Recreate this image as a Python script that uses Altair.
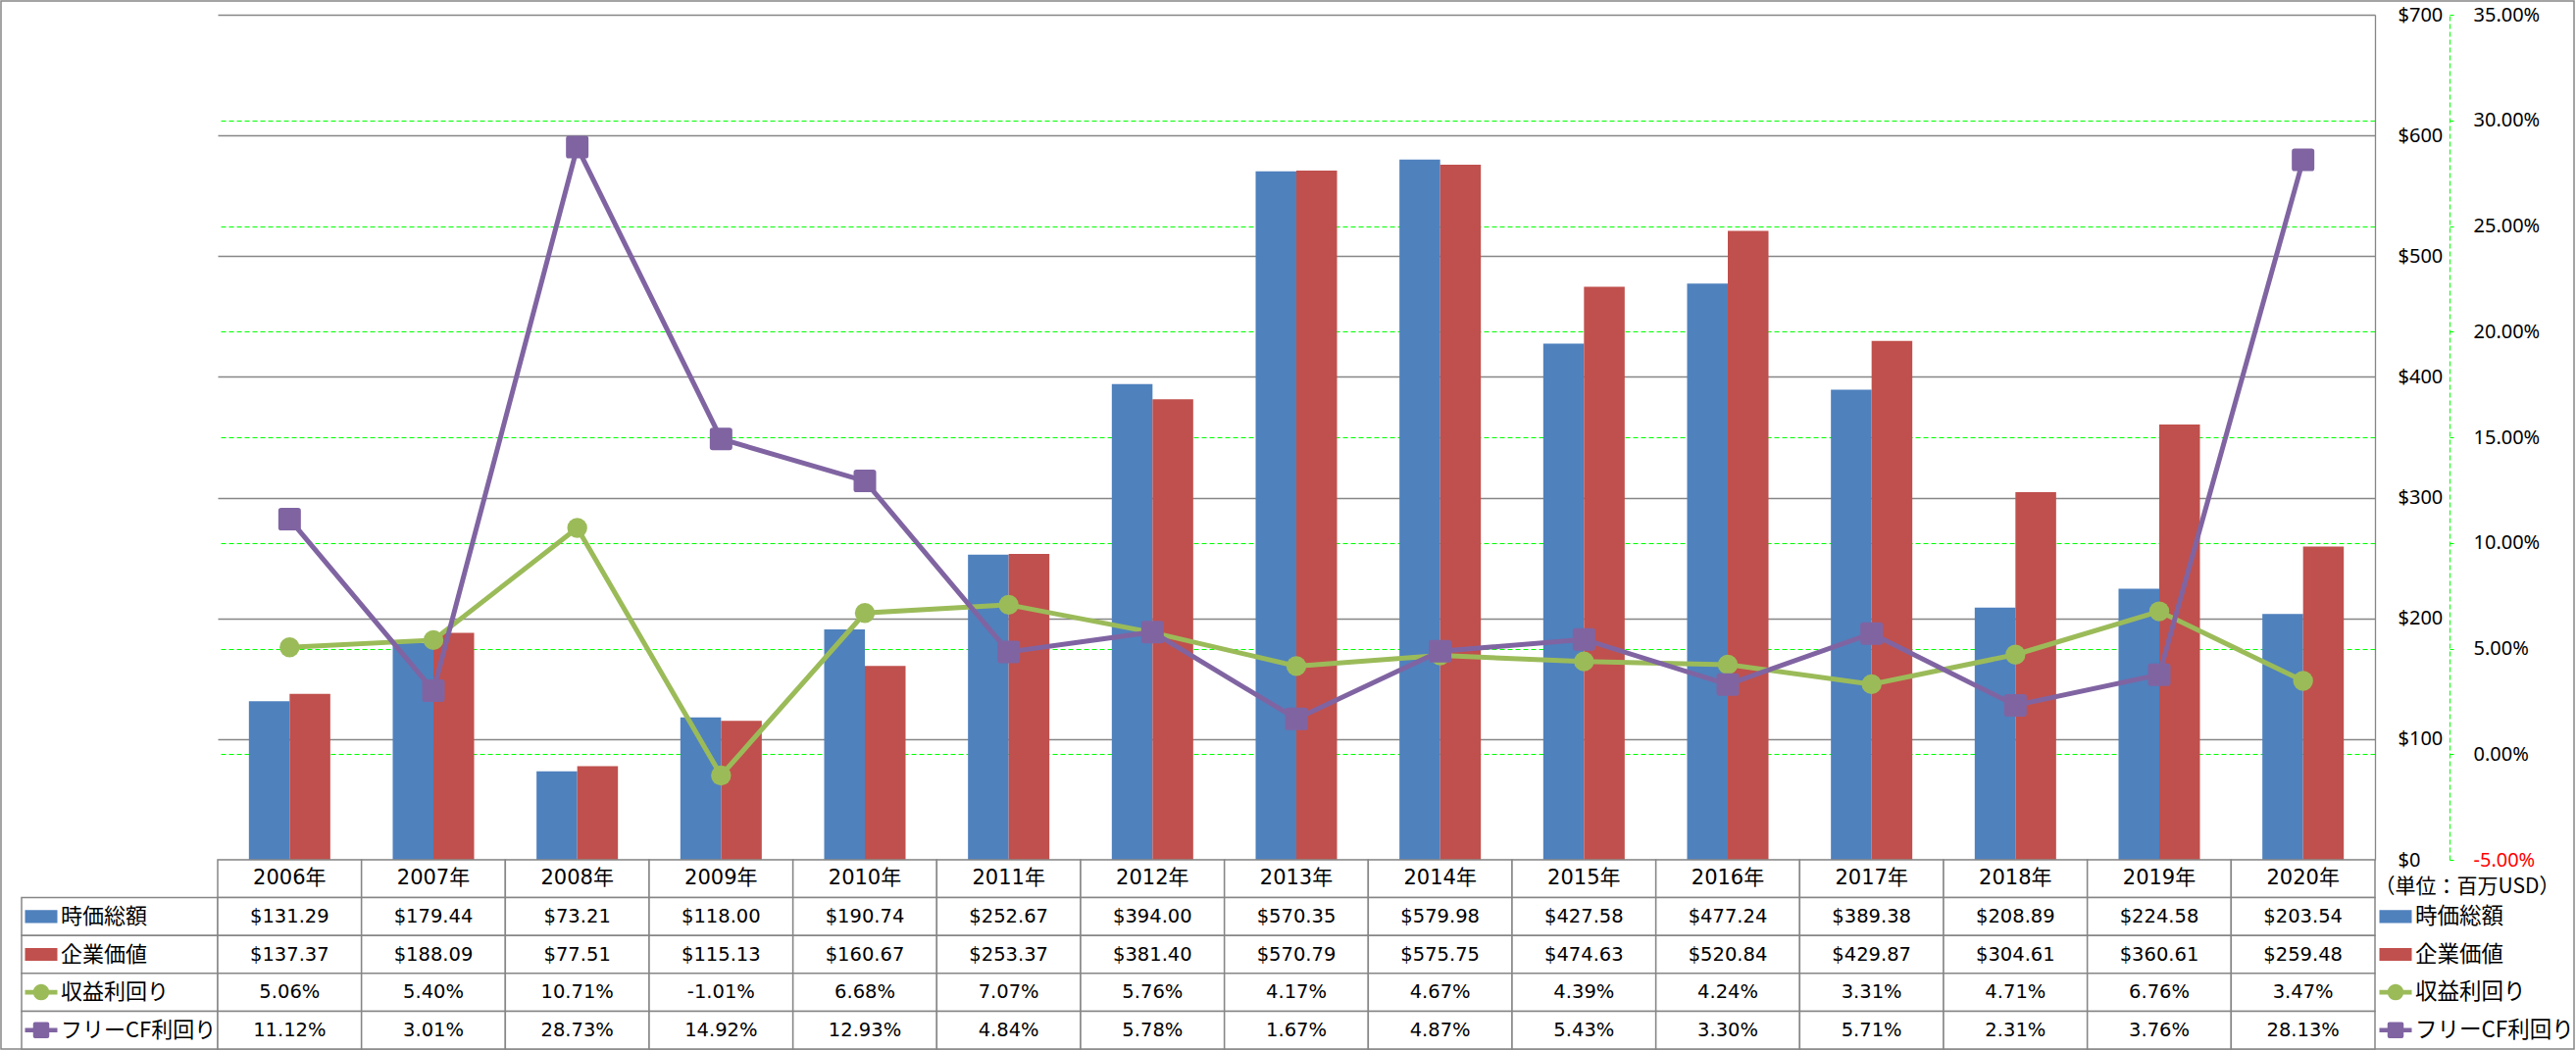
import altair as alt
import pandas as pd

# ---------------- data ----------------
years = ["2006年", "2007年", "2008年", "2009年", "2010年", "2011年", "2012年", "2013年",
         "2014年", "2015年", "2016年", "2017年", "2018年", "2019年", "2020年"]
series = ["時価総額", "企業価値", "収益利回り", "フリーCF利回り"]
market_cap = [131.29, 179.44, 73.21, 118.00, 190.74, 252.67, 394.00, 570.35,
              579.98, 427.58, 477.24, 389.38, 208.89, 224.58, 203.54]
enterprise_value = [137.37, 188.09, 77.51, 115.13, 160.67, 253.37, 381.40, 570.79,
                    575.75, 474.63, 520.84, 429.87, 304.61, 360.61, 259.48]
earnings_yield = [5.06, 5.40, 10.71, -1.01, 6.68, 7.07, 5.76, 4.17,
                  4.67, 4.39, 4.24, 3.31, 4.71, 6.76, 3.47]
fcf_yield = [11.12, 3.01, 28.73, 14.92, 12.93, 4.84, 5.78, 1.67,
             4.87, 5.43, 3.30, 5.71, 2.31, 3.76, 28.13]
usd_ticks = [0, 100, 200, 300, 400, 500, 600, 700]
pct_ticks = [-0.05, 0.0, 0.05, 0.10, 0.15, 0.20, 0.25, 0.30, 0.35]
unit_note = "（単位：百万USD）"

# ---------------- styles ----------------
colors = ["#4F81BD", "#C0504D", "#9BBB59", "#8064A2"]
GRAY = "#868686"
GREEN_GRID = "#00FF00"
NUM_FONT = "DejaVu Sans, Noto Sans CJK JP"
CJK_FONT = "Noto Sans CJK JP"
AXIS_FONT = "Noto Sans"

ROUND_SQ = ("M-0.75,-1H0.75Q1,-1,1,-0.75V0.75Q1,1,0.75,1H-0.75Q-1,1,-1,0.75"
            "V-0.75Q-1,-1,-0.75,-1Z")
KEY_RECT = "M-1,-0.4H1V0.4H-1Z"
KEY_CIRCLE = ("M-1,-0.14H1V0.14H-1Z M-0.5,0A0.5,0.5,0,1,1,0.5,0"
              "A0.5,0.5,0,1,1,-0.5,0Z")
KEY_SQUARE = ("M-1,-0.14H1V0.14H-1Z M-0.38,-0.5H0.38Q0.5,-0.5,0.5,-0.38V0.38"
              "Q0.5,0.5,0.38,0.5H-0.38Q-0.5,0.5,-0.5,0.38V-0.38Q-0.5,-0.5,-0.38,-0.5Z")
key_shapes = [KEY_RECT, KEY_RECT, KEY_CIRCLE, KEY_SQUARE]
key_sizes = [1089, 1089, 1296, 1296]

PLOT_W, PLOT_H = 2200, 862
LABEL_W, LEGEND_W, TABLE_H = 200, 205, 193

# ---------------- data frames ----------------
bar_df = pd.DataFrame({
    "year": years * 2,
    "series": [series[0]] * len(years) + [series[1]] * len(years),
    "value": market_cap + enterprise_value,
})
line_df = pd.DataFrame({
    "year": years * 2,
    "series": [series[2]] * len(years) + [series[3]] * len(years),
    "pct": [v / 100 for v in earnings_yield + fcf_yield],
})

rows = ["hdr"] + series
tbl_records = []
for i, y in enumerate(years):
    tbl_records.append({"year": y, "row": "hdr", "txt": y})
    tbl_records.append({"year": y, "row": series[0], "txt": f"${market_cap[i]:,.2f}"})
    tbl_records.append({"year": y, "row": series[1], "txt": f"${enterprise_value[i]:,.2f}"})
    tbl_records.append({"year": y, "row": series[2], "txt": f"{earnings_yield[i]:.2f}%"})
    tbl_records.append({"year": y, "row": series[3], "txt": f"{fcf_yield[i]:.2f}%"})
tbl_df = pd.DataFrame(tbl_records)
key_df = pd.DataFrame({"row": series, "label": series})

# shared colour scale (concatenated views share colour scales)
color_scale = alt.Scale(domain=series, range=colors)

# ---------------- main plot ----------------
x_main = alt.X("year:N", sort=years,
               scale=alt.Scale(paddingInner=0.434, paddingOuter=0.217), axis=None)

usd_axis = alt.Axis(
    orient="right", values=usd_ticks, format="$,.0f", title=None,
    grid=True, gridColor=GRAY, gridWidth=1.3,
    domain=True, domainColor=GRAY, domainWidth=1.3,
    ticks=False, labelPadding=23, labelFont=AXIS_FONT, labelFontSize=20,
    labelColor="black",
)
pct_axis = alt.Axis(
    orient="right", offset=76, values=pct_ticks, title=None,
    labelExpr="replace(format(datum.value, '.2%'), '\u2212', '-')",
    grid=True, gridColor=GREEN_GRID, gridDash=[5, 3], gridWidth=1,
    gridOpacity=alt.condition("datum.value > -0.04 && datum.value < 0.34",
                              alt.value(1), alt.value(0)),
    domain=True, domainColor=GREEN_GRID, domainDash=[5, 3], domainWidth=1,
    ticks=True, tickColor=GREEN_GRID, tickSize=4, tickWidth=1,
    labelPadding=20, labelFont=AXIS_FONT, labelFontSize=20,
    labelColor=alt.condition("datum.value < -0.01", alt.value("#FF0000"), alt.value("black")),
)

bars = alt.Chart(bar_df).mark_bar().encode(
    x=x_main,
    xOffset=alt.XOffset("series:N", sort=series[:2],
                        scale=alt.Scale(paddingInner=0, paddingOuter=0)),
    y=alt.Y("value:Q", scale=alt.Scale(domain=[0, 700], nice=False), axis=usd_axis),
    color=alt.Color("series:N", scale=color_scale, legend=None),
)

y_pct = alt.Y("pct:Q", scale=alt.Scale(domain=[-0.05, 0.35], nice=False, zero=False),
              axis=pct_axis)

base_line = alt.Chart(line_df)
g_line = base_line.transform_filter(alt.datum.series == series[2]).mark_line(
    color=colors[2], strokeWidth=5).encode(x=x_main, y=y_pct)
g_pts = base_line.transform_filter(alt.datum.series == series[2]).mark_point(
    filled=True, opacity=1, size=415, shape="circle", color=colors[2]).encode(x=x_main, y=y_pct)
p_line = base_line.transform_filter(alt.datum.series == series[3]).mark_line(
    color=colors[3], strokeWidth=5).encode(x=x_main, y=y_pct)
p_pts = base_line.transform_filter(alt.datum.series == series[3]).mark_point(
    filled=True, opacity=1, size=529, shape=ROUND_SQ, color=colors[3]).encode(x=x_main, y=y_pct)

main = alt.layer(
    bars, alt.layer(g_line, g_pts, p_line, p_pts)
).resolve_scale(y="independent").properties(width=PLOT_W, height=PLOT_H)

# spacer to the left of the plot (also carries the outer frame)
spacer = alt.Chart(pd.DataFrame({"k": [0]})).mark_rect(
    filled=False, stroke=GRAY, strokeWidth=1.5
).encode(
    x=alt.value(-21), x2=alt.value(2603), y=alt.value(-14), y2=alt.value(PLOT_H + TABLE_H)
).properties(width=LABEL_W, height=PLOT_H)

# empty filler to the right of the plot (axes live there)
filler = alt.Chart(pd.DataFrame({"k": [0]})).mark_point(opacity=0).encode(
    x=alt.value(0), y=alt.value(0)
).properties(width=LEGEND_W, height=PLOT_H)

# ---------------- data table ----------------
x_tbl = alt.X("year:N", sort=years, scale=alt.Scale(paddingInner=0, paddingOuter=0), axis=None)
y_tbl = alt.Y("row:N", sort=rows, scale=alt.Scale(domain=rows, paddingInner=0, paddingOuter=0),
              axis=None)

cells = alt.Chart(tbl_df).mark_rect(fill="white", stroke=GRAY, strokeWidth=1.5).encode(
    x=x_tbl, y=y_tbl)
cell_txt = alt.Chart(tbl_df).mark_text(font=NUM_FONT, color="black").encode(
    x=x_tbl, y=y_tbl, text="txt:N",
    size=alt.condition(alt.datum.row == "hdr", alt.value(21), alt.value(19.5)),
)
table = alt.layer(cells, cell_txt).properties(width=PLOT_W, height=TABLE_H)

key_color = alt.Color("row:N", scale=color_scale, legend=None)
key_shape = alt.Shape("row:N", scale=alt.Scale(domain=series, range=key_shapes), legend=None)
key_size = alt.Size("row:O", sort=series, scale=alt.Scale(domain=series, range=key_sizes),
                    legend=None)

lab_cells = alt.Chart(key_df).mark_rect(fill="white", stroke=GRAY, strokeWidth=1.5).encode(
    y=y_tbl)
lab_sym = alt.Chart(key_df).mark_point(filled=True, opacity=1).encode(
    x=alt.value(20), y=y_tbl, shape=key_shape, size=key_size, color=key_color)
lab_txt = alt.Chart(key_df).mark_text(align="left", font=CJK_FONT, fontSize=22,
                                      color="black").encode(
    x=alt.value(40), y=y_tbl, text="label:N")
labels = alt.layer(lab_cells, lab_sym, lab_txt).properties(width=LABEL_W, height=TABLE_H)

leg_sym = alt.Chart(key_df).mark_point(filled=True, opacity=1).encode(
    x=alt.value(21), y=y_tbl, shape=key_shape, size=key_size, color=key_color)
leg_txt = alt.Chart(key_df).mark_text(align="left", font=CJK_FONT, fontSize=22.5,
                                      color="black").encode(
    x=alt.value(41), y=y_tbl, text="label:N")
unit_txt = alt.Chart(pd.DataFrame({"row": ["hdr"], "t": [unit_note]})).mark_text(
    align="center", font=CJK_FONT, fontSize=21, color="black", dy=9).encode(
    x=alt.value(94), y=y_tbl, text="t:N")
legend = alt.layer(leg_sym, leg_txt, unit_txt).properties(width=LEGEND_W, height=TABLE_H)

chart = alt.concat(
    spacer, main, filler, labels, table, legend,
    columns=3, spacing=0, bounds="flush"
).properties(
    padding=0, background="white"
).configure_view(strokeWidth=0)

chart.save("out.html", embed_options={"renderer": "svg", "actions": False})
